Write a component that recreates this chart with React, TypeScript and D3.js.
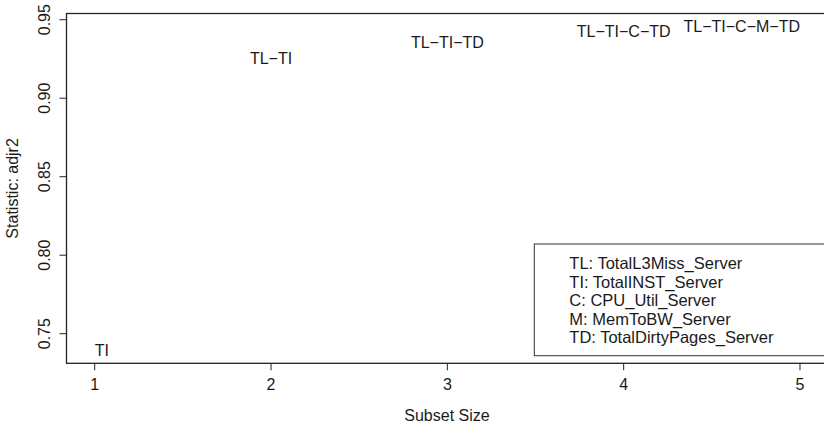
import React from "react";
import * as d3 from "d3";

const subsetSizes = [1, 2, 3, 4, 5];
const adjr2 = [0.7394, 0.9253, 0.9357, 0.9428, 0.9457];
const modelLabels = ["TI", "TL−TI", "TL−TI−TD", "TL−TI−C−TD", "TL−TI−C−M−TD"];
const xTicks = [1, 2, 3, 4, 5];
const yTicks = [0.75, 0.8, 0.85, 0.9, 0.95];
const legendLines = [
  "TL: TotalL3Miss_Server",
  "TI: TotalINST_Server",
  "C: CPU_Util_Server",
  "M: MemToBW_Server",
  "TD: TotalDirtyPages_Server",
];

const width = 824;
const height = 426;
const plotLeft = 66.5;
const plotRight = 828.2;
const plotTop = 13.5;
const plotBottom = 363.3;
const font = "'Liberation Sans', Arial, Helvetica, sans-serif";
const fs = 16;

// R style axis limits: data range padded by 4% on both sides
const pad = (lo: number, hi: number) => {
  const r = hi - lo;
  return [lo - 0.04 * r, hi + 0.04 * r];
};

const App = () => {
  const xExt = d3.extent(subsetSizes) as [number, number];
  const yExt = d3.extent(adjr2) as [number, number];
  const x = d3.scaleLinear().domain(pad(xExt[0], xExt[1])).range([plotLeft, plotRight]);
  const y = d3.scaleLinear().domain(pad(yExt[0], yExt[1])).range([plotBottom, plotTop]);

  const anchorFor = (i: number) =>
    i === 0 ? "start" : i === subsetSizes.length - 1 ? "end" : "middle";

  const legendX = 534.3;
  const legendTop = 244;
  const legendBottom = 355.7;

  return (
    <div style={{ position: "absolute", left: 0, top: 0 }}>
      <svg width={width} height={height} style={{ display: "block", background: "#fff" }}>
        <g fontFamily={font} fontSize={fs} fill="#1a1a1a">
          {/* plot box */}
          <rect
            x={plotLeft}
            y={plotTop}
            width={plotRight - plotLeft}
            height={plotBottom - plotTop}
            fill="none"
            stroke="#222"
            strokeWidth={1.3}
          />

          {/* x axis */}
          {xTicks.map((t) => (
            <g key={"x" + t}>
              <line x1={x(t)} x2={x(t)} y1={plotBottom} y2={plotBottom + 7} stroke="#222" strokeWidth={1} />
              <text x={x(t)} y={390} textAnchor="middle">
                {t}
              </text>
            </g>
          ))}
          <text x={447} y={421} textAnchor="middle">
            Subset Size
          </text>

          {/* y axis */}
          {yTicks.map((t) => (
            <g key={"y" + t}>
              <line x1={plotLeft - 7} x2={plotLeft} y1={y(t)} y2={y(t)} stroke="#222" strokeWidth={1} />
              <text transform={`translate(${50},${y(t)}) rotate(-90)`} textAnchor="middle">
                {d3.format(".2f")(t)}
              </text>
            </g>
          ))}
          <text
            transform={`translate(${18},${(plotTop + plotBottom) / 2}) rotate(-90)`}
            textAnchor="middle"
          >
            Statistic: adjr2
          </text>

          {/* model labels */}
          {subsetSizes.map((s, i) => (
            <text
              key={modelLabels[i]}
              x={x(s)}
              y={y(adjr2[i])}
              dy="0.36em"
              textAnchor={anchorFor(i)}
            >
              {modelLabels[i]}
            </text>
          ))}

          {/* legend */}
          <rect
            x={legendX}
            y={legendTop}
            width={840 - legendX}
            height={legendBottom - legendTop}
            fill="#fff"
            stroke="#333"
            strokeWidth={1}
          />
          {legendLines.map((l, i) => (
            <text key={l} x={569.3} y={269 + i * 18.6} fontSize={16.5}>
              {l}
            </text>
          ))}
        </g>
      </svg>
    </div>
  );
};

export default App;
